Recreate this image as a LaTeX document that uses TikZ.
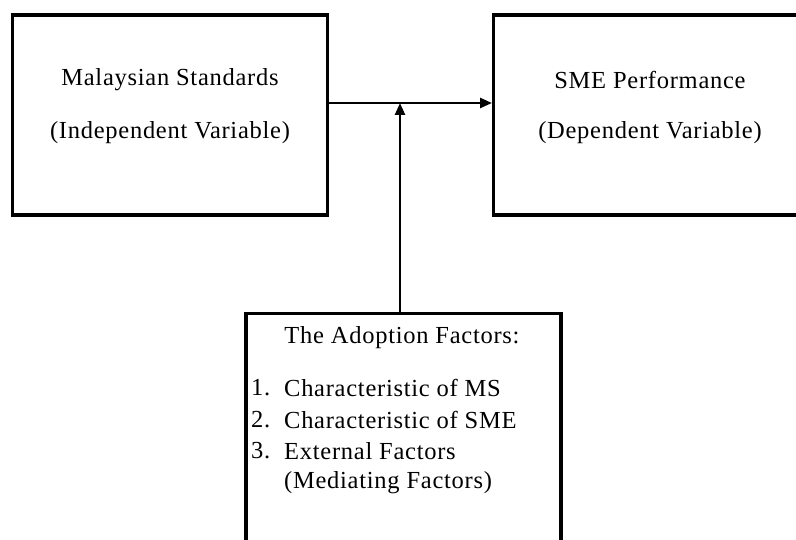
\documentclass[tikz,border=0pt]{standalone}
\usepackage{fontspec}
\setmainfont[LetterSpace=3]{Liberation Serif}
\usetikzlibrary{arrows.meta}
\begin{document}
\begin{tikzpicture}[x=1pt,y=-1pt,
  boxstyle/.style={draw,line width=3.2pt,rectangle,inner sep=0pt},
  txt/.style={font=\fontsize{24.5}{28}\selectfont,inner sep=0pt,anchor=center},
  conn/.style={line width=2.4pt,-{Triangle[length=12pt,width=10pt]}}]
\useasboundingbox (0,0) rectangle (796,540);
\node[boxstyle,minimum width=315pt,minimum height=200pt] (ms) at (170,115) {};
\node[boxstyle,minimum width=330pt,minimum height=200pt,anchor=west] (sme) at (492,115) {};
\node[boxstyle,minimum width=315pt,minimum height=260pt,anchor=north] (af) at (403.5,312) {};
\node[txt] (ms1) at (170,80) {Malaysian Standards};
\node[txt] (ms2) at (170,133) {(Independent Variable)};
\node[txt] (sme1) at (650,80) {SME Performance};
\node[txt] (sme2) at (650,133) {(Dependent Variable)};
\node[txt] (af0) at (402,338) {The Adoption Factors:};
\node[txt,anchor=west] (n1) at (251,388) {1.};
\node[txt,anchor=west] (n2) at (251,420) {2.};
\node[txt,anchor=west] (n3) at (251,451) {3.};
\node[txt,anchor=west] (i1) at (284,388) {Characteristic of MS};
\node[txt,anchor=west] (i2) at (284,420) {Characteristic of SME};
\node[txt,anchor=west] (i3) at (284,451) {External Factors};
\node[txt,anchor=west] (i4) at (284,483) {(Mediating Factors)};
\coordinate (j) at (400,103);
\draw[conn] (ms.east |- j) -- (sme.west |- j);
\draw[conn] (j |- af.north) -- (j);
\end{tikzpicture}
\end{document}
